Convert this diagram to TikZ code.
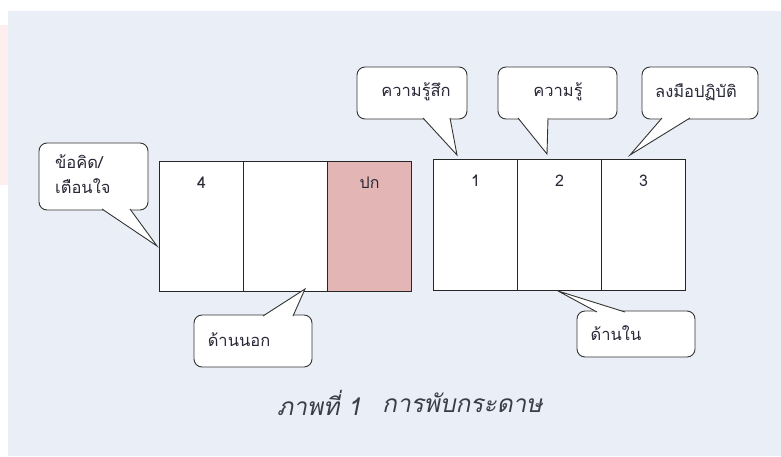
\documentclass[tikz,border=0pt]{standalone}
\usepackage{fontspec}
\newfontfamily\thai[Script=Thai]{Loma}
\newfontfamily\thaiit[Script=Thai,FakeSlant=0.2]{Loma}
\usetikzlibrary{calc}
\definecolor{panelbg}{RGB}{234,239,247}
\definecolor{coverpink}{RGB}{228,181,181}
\definecolor{txt}{RGB}{40,40,55}
\definecolor{captxt}{RGB}{60,60,70}
\definecolor{faintpink}{RGB}{254,238,238}
\tikzset{
  panel/.style={draw=black!85, line width=1.3, fill=white, minimum width=84, minimum height=130, anchor=north west, inner sep=0},
  numtxt/.style={font=\thai\fontsize{16}{18}\selectfont, text=txt, inner sep=0},
  cbox/.style={draw=black!80, fill=white, line width=0.9, rounded corners=8, inner sep=0},
  ctxt/.style={font=\thai\fontsize{16.5}{20}\selectfont, text=txt, inner sep=0},
  captxtstyle/.style={font=\thaiit\fontsize{24.5}{28}\selectfont, text=captxt, inner sep=0, anchor=west},
  ptr/.style={draw=black!80, line width=0.9, line join=miter}
}
\begin{document}
\begin{tikzpicture}[x=1pt,y=-1pt]
\useasboundingbox (0,0) rectangle (781,456);
\fill[white] (0,0) rectangle (781,456);
\fill[faintpink] (0,25) rectangle (8,185);
\fill[panelbg] (8,11) rectangle (781,456);

% left folded panels
\node[panel] (p4) at (159,161) {};
\node[panel] (pmid) at (243,161) {};
\node[panel, fill=coverpink] (pcov) at (327,161) {};
\node[numtxt] (t4) at ($(p4.north)+(0,22)$) {4};
\node[numtxt] (tcov) at ($(pcov.north)+(0,22)$) {ปก};

% right panels
\node[panel, minimum height=131] (p1) at (433,159) {};
\node[panel, minimum height=131] (p2) at (517,159) {};
\node[panel, minimum height=131] (p3) at (601,159) {};
\node[numtxt] (t1) at ($(p1.north)+(0,22)$) {1};
\node[numtxt] (t2) at ($(p2.north)+(0,22)$) {2};
\node[numtxt] (t3) at ($(p3.north)+(0,22)$) {3};

% callout: ข้อคิด/เตือนใจ
\node[cbox, minimum width=109, minimum height=67] (cA) at (93.5,176.5) {};
\coordinate (aA) at (102,209);
\coordinate (bA) at (130,209);
\coordinate (tipA) at (157,246);
\fill[white] (aA) -- (tipA) -- (bA) -- cycle;
\draw[ptr] (aA) -- (tipA) -- (bA);
\node[ctxt, anchor=west] (xA1) at (55,162) {ข้อคิด/};
\node[ctxt, anchor=west] (xA2) at (55,186) {เตือนใจ};

% callout: ความรู้สึก
\node[cbox, minimum width=110, minimum height=52] (cB) at (412,93) {};
\coordinate (aB) at (423,118);
\coordinate (bB) at (450,118);
\coordinate (tipB) at (457,155);
\fill[white] (aB) -- (tipB) -- (bB) -- cycle;
\draw[ptr] (aB) -- (tipB) -- (bB);
\node[ctxt] (xB) at (416,92) {ความรู้สึก};

% callout: ความรู้
\node[cbox, minimum width=119, minimum height=52] (cC) at (557.5,93) {};
\coordinate (aC) at (518,118);
\coordinate (bC) at (548,118);
\coordinate (tipC) at (547,154);
\fill[white] (aC) -- (tipC) -- (bC) -- cycle;
\draw[ptr] (aC) -- (tipC) -- (bC);
\node[ctxt] (xC) at (558,92) {ความรู้};

% callout: ลงมือปฏิบัติ
\node[cbox, minimum width=116, minimum height=52] (cD) at (700,93) {};
\coordinate (aD) at (662,118);
\coordinate (bD) at (690,118);
\coordinate (tipD) at (630,155);
\fill[white] (aD) -- (tipD) -- (bD) -- cycle;
\draw[ptr] (aD) -- (tipD) -- (bD);
\node[ctxt] (xD) at (696,92) {ลงมือปฏิบัติ};

% callout: ด้านนอก
\node[cbox, minimum width=118, minimum height=52] (cE) at (253,341) {};
\coordinate (aE) at (263,316);
\coordinate (bE) at (293,316);
\coordinate (tipE) at (305,289);
\fill[white] (aE) -- (tipE) -- (bE) -- cycle;
\draw[ptr] (aE) -- (tipE) -- (bE);
\node[ctxt] (xE) at (239,340) {ด้านนอก};

% callout: ด้านใน
\node[cbox, minimum width=118, minimum height=46] (cF) at (636,334) {};
\coordinate (aF) at (597,312);
\coordinate (bF) at (625,312);
\coordinate (tipF) at (558,291);
\fill[white] (aF) -- (tipF) -- (bF) -- cycle;
\draw[ptr] (aF) -- (tipF) -- (bF);
\node[ctxt] (xF) at (616,333) {ด้านใน};

% caption
\node[captxtstyle] (cap1) at (277,403) {ภาพที่ 1};
\node[captxtstyle] (cap2) at (382,403) {การพับกระดาษ};
\end{tikzpicture}
\end{document}
